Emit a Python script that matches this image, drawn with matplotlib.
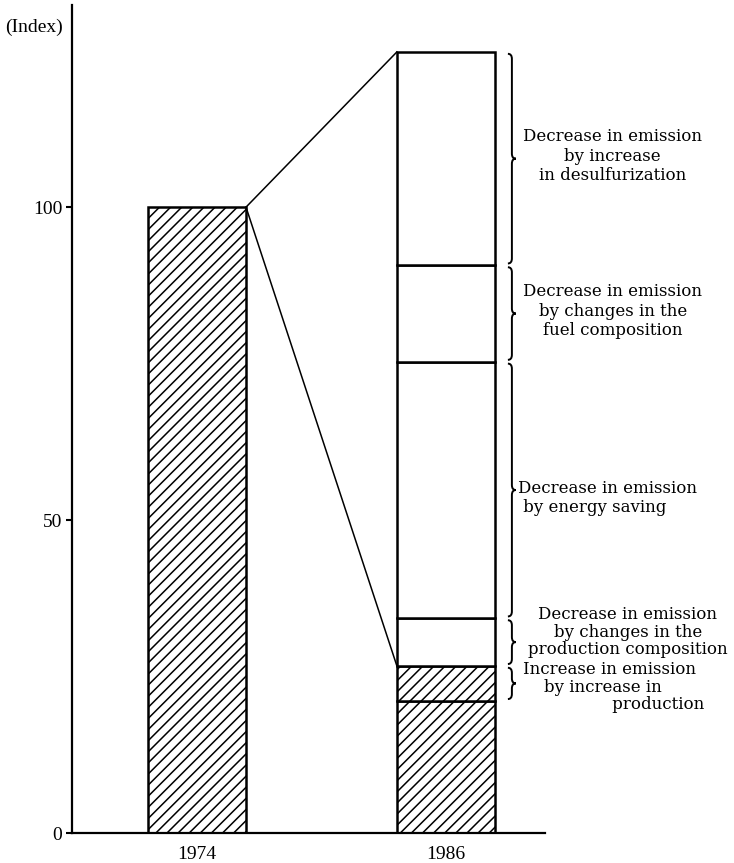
# Sulphur oxide emission index, 1974 vs 1986, with factor breakdown
import matplotlib.pyplot as plt
from matplotlib.path import Path
from matplotlib.patches import PathPatch

plt.rcParams['hatch.linewidth'] = 1.1

# data (index, 1974 = 100)
years = ['1974', '1986']
index_1974 = 100
actual_1986 = 21.1
# factor segments stacked on top of the 1986 bar, bottom to top
factor_names = ['increase', 'prodcomp', 'energy', 'fuel', 'desulf']
factor_sizes = [5.6, 7.6, 41.0, 15.4, 34.1]
factor_labels = [
    'Increase in emission\n    by increase in\n                 production',
    'Decrease in emission\nby changes in the\nproduction composition',
    'Decrease in emission\n by energy saving',
    'Decrease in emission\nby changes in the\nfuel composition',
    'Decrease in emission\nby increase\nin desulfurization',
]
yticks = [0, 50, 100]

fig = plt.figure(figsize=(7.34, 8.63), dpi=100)
ax = fig.add_axes([72 / 734, 30 / 863, (545 - 72) / 734, (833 - 5) / 863])

bar_w = 0.394
edge_lw = 1.8

# 1974 bar
ax.bar(0, index_1974, width=bar_w, facecolor='white', edgecolor='black',
       hatch='///', linewidth=edge_lw, zorder=2)

# 1986 bar: actual level + stacked factors
ax.bar(1, actual_1986, width=bar_w, facecolor='white', edgecolor='black',
       hatch='///', linewidth=edge_lw, zorder=2)
bottoms = []
b = actual_1986
for name, size in zip(factor_names, factor_sizes):
    bottoms.append(b)
    hatch = '///' if name == 'increase' else None
    ax.bar(1, size, bottom=b, width=bar_w, facecolor='white', edgecolor='black',
           hatch=hatch, linewidth=edge_lw, zorder=2)
    b += size
top_1986 = b
prod_level = actual_1986 + factor_sizes[0]

# connecting lines
x_r = 0 + bar_w / 2
x_l = 1 - bar_w / 2
ax.plot([x_r, x_l], [index_1974, top_1986], color='black', lw=1.1, zorder=3)
ax.plot([x_r, x_l], [index_1974, prod_level], color='black', lw=1.1, zorder=3)


def brace(ax, xm, y0, y1, c=0.016, h=0.8):
    ym = (y0 + y1) / 2
    verts = [(xm - c, y0), (xm, y0), (xm, y0 + h),
             (xm, ym - h), (xm, ym), (xm + c, ym),
             (xm, ym), (xm, ym + h),
             (xm, y1 - h), (xm, y1), (xm - c, y1)]
    codes = [Path.MOVETO, Path.CURVE3, Path.CURVE3,
             Path.LINETO, Path.CURVE3, Path.CURVE3,
             Path.CURVE3, Path.CURVE3,
             Path.LINETO, Path.CURVE3, Path.CURVE3]
    ax.add_patch(PathPatch(Path(verts, codes), facecolor='none',
                           edgecolor='black', lw=1.4, clip_on=False))


text_font = dict(family='DejaVu Serif', fontsize=12, color='black')
brace_x = 1.265
for i, (name, size) in enumerate(zip(factor_names, factor_sizes)):
    y0 = bottoms[i] + 0.3
    y1 = bottoms[i] + size - 0.3
    brace(ax, brace_x, y0, y1)
    ymid = bottoms[i] + size / 2
    if name == 'energy':
        ax.text(1.29, ymid - 1.2, factor_labels[i], ha='left', va='center',
                linespacing=1.15, clip_on=False, **text_font)
    elif name == 'increase':
        ax.text(1.31, ymid - 0.6, factor_labels[i], ha='left', va='center',
                linespacing=1.05, clip_on=False, **text_font)
    elif name == 'prodcomp':
        ax.text(1.73, ymid + 1.6, factor_labels[i], ha='center', va='center',
                multialignment='center', linespacing=1.05, clip_on=False, **text_font)
    else:
        ax.text(1.67, ymid + 0.4, factor_labels[i], ha='center', va='center',
                multialignment='center', linespacing=1.2, clip_on=False, **text_font)

ax.set_xlim(-0.502, 1.398)
ax.set_ylim(0, 132.3)
ax.spines['top'].set_visible(False)
ax.spines['right'].set_visible(False)
ax.spines['left'].set_linewidth(1.6)
ax.spines['bottom'].set_linewidth(1.6)

tick_font = dict(family='Liberation Serif', size=14)
ax.set_yticks(yticks)
ax.set_yticklabels([str(v) for v in yticks], fontdict=tick_font)
ax.tick_params(axis='y', length=4, width=1.5, pad=3)
ax.set_xticks([0, 1])
ax.set_xticklabels(years, fontdict=tick_font)
ax.tick_params(axis='x', length=0, pad=9)

fig.text(34 / 734, 1 - 27 / 863, '(Index)', ha='center', va='center',
         family='Liberation Serif', fontsize=14)

fig.savefig('out.png', dpi=100)
